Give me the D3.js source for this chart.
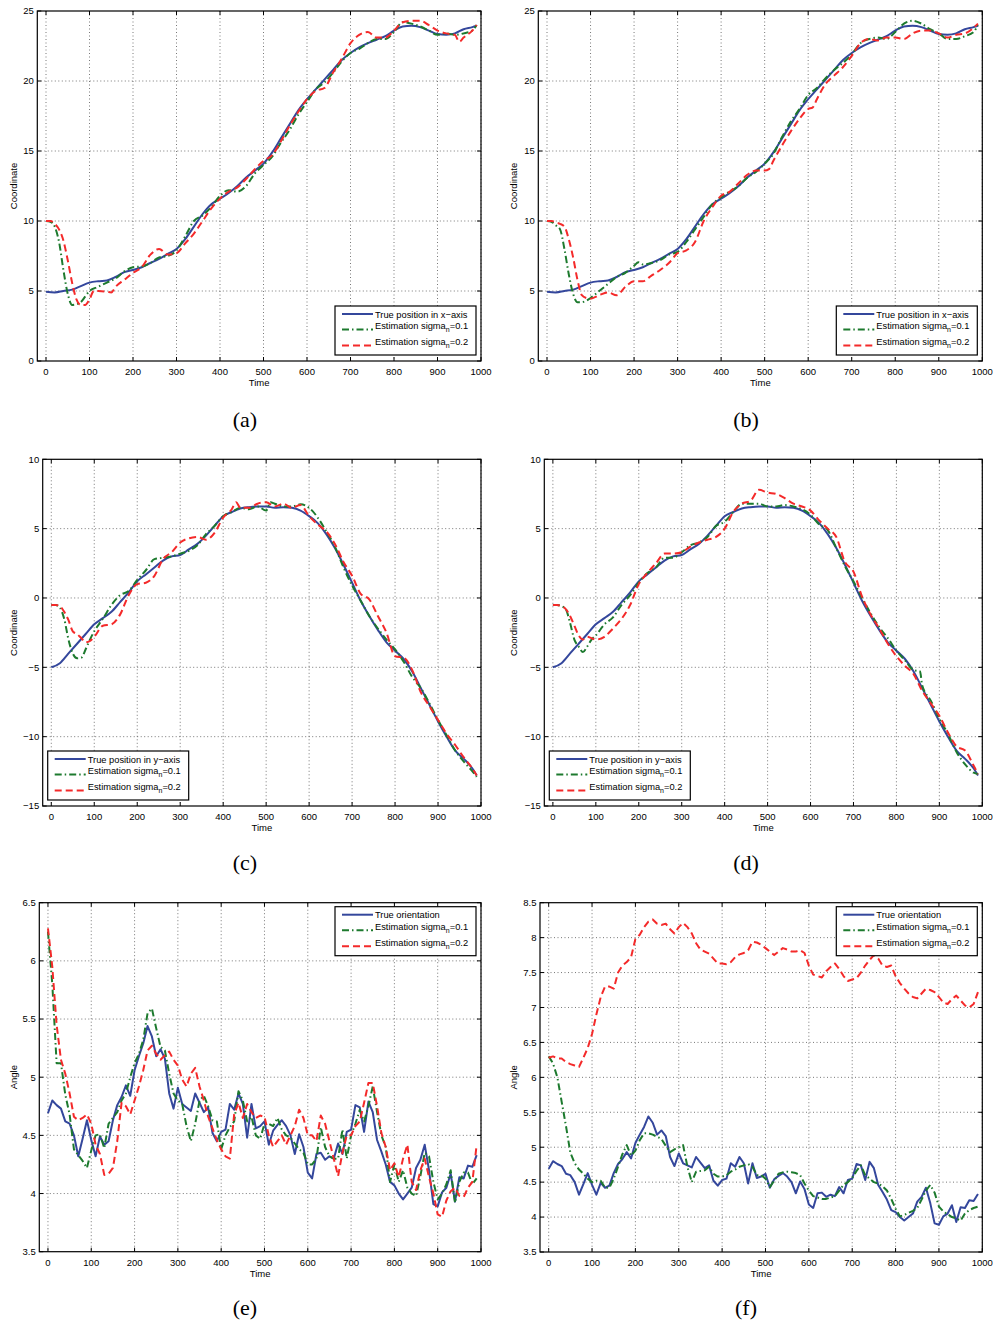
<!DOCTYPE html>
<html>
<head>
<meta charset="utf-8">
<script src="https://cdn.jsdelivr.net/npm/d3@7"></script>
<style>
body { margin: 0; background: #fff; }
svg { display: block; }
</style>
</head>
<body>
<div id="content"></div>
<script>
// tick values
var timeTicks = [0, 100, 200, 300, 400, 500, 600, 700, 800, 900, 1000];
var coordXTicks = [0, 5, 10, 15, 20, 25];
var coordYTicks = [-15, -10, -5, 0, 5, 10];
var angleTicksE = [3.5, 4, 4.5, 5, 5.5, 6, 6.5];
var angleTicksF = [3.5, 4, 4.5, 5, 5.5, 6, 6.5, 7, 7.5, 8, 8.5];

// x coordinate, [time, value]
var trueX = [[0,4.95],[20,4.9],[40,5.0],[60,5.1],[80,5.35],[100,5.6],[120,5.7],[140,5.75],[160,6.0],[180,6.35],[200,6.5],[220,6.7],[240,7.0],[260,7.3],[280,7.65],[300,8.0],[320,8.7],[340,9.6],[360,10.5],[380,11.2],[400,11.6],[420,12.0],[440,12.5],[460,13.1],[480,13.6],[500,14.1],[520,14.9],[540,15.9],[560,16.9],[580,17.9],[600,18.7],[620,19.4],[640,20.1],[660,20.8],[680,21.5],[700,22.0],[720,22.4],[740,22.7],[760,22.95],[780,23.2],[800,23.6],[820,23.9],[840,23.95],[860,23.85],[880,23.6],[900,23.35],[920,23.3],[940,23.4],[960,23.7],[980,23.85],[990,23.95]];
var estXa1 = [[0,10.0],[10,9.95],[20,9.6],[30,8.5],[40,6.5],[50,4.8],[60,4.0],[70,4.05],[80,4.2],[90,4.6],[100,5.0],[120,5.3],[140,5.6],[160,5.9],[180,6.4],[200,6.7],[220,6.75],[240,7.0],[260,7.4],[280,7.5],[300,7.9],[320,8.9],[340,10.0],[360,10.4],[380,11.0],[400,11.8],[420,12.2],[440,12.1],[460,12.5],[480,13.4],[500,14.0],[520,14.6],[540,15.6],[560,16.5],[580,17.6],[600,18.5],[620,19.4],[640,19.9],[660,20.6],[680,21.4],[700,22.0],[720,22.3],[740,22.7],[760,23.0],[780,23.0],[800,23.5],[820,24.2],[840,24.1],[860,23.9],[880,23.6],[900,23.3],[920,23.4],[940,23.3],[960,23.4],[980,23.6],[990,24.0]];
var estXa2 = [[0,10.0],[10,10.0],[20,9.8],[30,9.4],[40,8.6],[50,7.2],[60,5.6],[70,4.4],[80,4.0],[90,4.0],[100,4.4],[110,5.0],[120,5.0],[140,4.95],[150,4.9],[160,5.3],[180,5.8],[200,6.3],[220,6.7],[240,7.6],[260,8.0],[280,7.6],[300,7.7],[320,8.4],[340,9.1],[360,10.0],[380,10.9],[400,11.6],[420,12.1],[440,12.4],[460,13.0],[480,13.7],[500,14.3],[520,14.7],[540,15.7],[560,16.8],[580,17.8],[600,18.7],[620,19.3],[640,19.5],[660,20.6],[680,21.6],[700,22.7],[720,23.3],[740,23.5],[760,23.1],[780,23.1],[800,23.6],[820,24.2],[840,24.3],[860,24.3],[880,24.0],[900,23.6],[920,23.4],[940,23.3],[950,22.8],[960,23.1],[980,23.6],[990,24.0]];
var estXb1 = [[0,10.0],[10,9.95],[20,9.7],[30,9.4],[40,8.0],[50,6.2],[60,4.8],[70,4.2],[80,4.2],[90,4.3],[100,4.5],[120,5.0],[140,5.5],[160,6.0],[180,6.3],[200,6.8],[210,7.05],[220,6.9],[240,7.0],[260,7.2],[280,7.6],[300,7.8],[320,8.5],[340,9.4],[360,10.3],[380,11.2],[400,11.7],[420,12.1],[440,12.5],[460,13.1],[480,13.5],[500,14.1],[520,14.8],[540,16.0],[560,17.1],[580,18.0],[600,19.0],[620,19.5],[640,20.2],[660,20.8],[680,21.3],[700,21.9],[720,22.7],[740,23.0],[760,23.1],[780,23.0],[800,23.5],[820,24.1],[840,24.3],[860,24.1],[880,23.7],[900,23.4],[920,23.0],[940,23.0],[960,23.2],[980,23.5],[990,24.0]];
var estXb2 = [[0,10.0],[10,10.0],[20,9.9],[30,9.8],[40,9.6],[50,8.7],[60,7.4],[70,5.8],[80,4.7],[90,4.5],[100,4.45],[120,4.7],[140,4.9],[160,4.7],[180,5.3],[200,5.7],[220,5.7],[240,6.1],[260,6.5],[280,7.0],[300,7.7],[320,7.9],[340,8.5],[360,10.0],[380,11.0],[400,11.8],[420,12.1],[440,12.7],[460,13.3],[480,13.6],[500,13.6],[510,13.7],[520,14.3],[540,15.4],[560,16.4],[580,17.3],[600,18.0],[610,18.1],[620,18.7],[640,19.8],[660,20.4],[680,21.0],[700,21.8],[720,22.7],[740,23.0],[760,22.9],[780,23.1],[800,23.1],[820,23.0],[840,23.4],[860,23.6],[880,23.6],[900,23.4],[920,23.1],[940,23.3],[960,23.4],[980,23.8],[990,24.1]];

// y coordinate, [time, value]
var trueY = [[0,-5.0],[20,-4.7],[40,-4.0],[60,-3.3],[80,-2.6],[100,-1.9],[120,-1.45],[140,-1.0],[160,-0.3],[180,0.4],[200,1.2],[220,1.7],[240,2.2],[260,2.7],[280,3.0],[300,3.1],[320,3.5],[340,3.9],[360,4.5],[380,5.2],[400,5.9],[420,6.2],[440,6.45],[460,6.55],[480,6.6],[500,6.6],[520,6.5],[540,6.55],[560,6.5],[580,6.3],[600,5.9],[620,5.4],[640,4.6],[660,3.6],[680,2.4],[700,1.1],[720,-0.2],[740,-1.3],[760,-2.3],[780,-3.2],[800,-3.8],[820,-4.4],[840,-5.3],[860,-6.5],[880,-7.7],[900,-8.9],[920,-10.0],[940,-11.0],[960,-11.6],[980,-12.3],[990,-12.8]];
var estYc1 = [[0,-0.5],[10,-0.5],[20,-0.7],[30,-1.5],[40,-3.0],[50,-4.0],[60,-4.35],[70,-4.3],[80,-3.7],[90,-3.0],[100,-2.4],[120,-1.5],[140,-0.5],[160,0.2],[180,0.5],[200,1.3],[220,2.0],[240,2.8],[260,2.9],[280,3.0],[300,3.2],[320,3.4],[340,3.8],[360,4.6],[380,5.2],[400,5.9],[420,6.2],[440,6.5],[460,6.4],[480,6.6],[500,6.3],[510,6.9],[520,6.8],[540,6.6],[560,6.6],[580,6.75],[600,6.5],[620,5.8],[640,4.8],[660,3.7],[680,2.2],[700,0.9],[720,-0.2],[740,-1.3],[760,-2.2],[780,-3.0],[800,-3.7],[820,-4.6],[840,-5.7],[860,-6.5],[880,-7.6],[900,-8.8],[920,-9.9],[940,-11.0],[960,-11.8],[980,-12.5],[990,-12.9]];
var estYc2 = [[0,-0.5],[10,-0.5],[20,-0.6],[30,-1.0],[40,-1.6],[50,-2.4],[60,-2.6],[70,-2.9],[80,-3.2],[90,-3.1],[100,-2.8],[120,-2.0],[140,-1.9],[160,-1.2],[180,0.2],[200,1.0],[220,1.1],[240,1.6],[260,2.8],[280,3.3],[300,4.0],[320,4.3],[340,4.4],[360,4.2],[380,4.7],[400,5.8],[420,6.4],[430,6.9],[440,6.5],[460,6.5],[480,6.8],[500,6.9],[520,6.6],[540,6.8],[560,6.5],[580,6.7],[600,5.9],[620,5.3],[640,4.8],[660,3.9],[680,2.6],[700,1.6],[720,0.3],[740,-0.1],[760,-1.3],[780,-2.5],[800,-4.2],[820,-4.3],[840,-5.2],[860,-6.8],[880,-7.8],[900,-8.8],[920,-9.8],[940,-10.6],[960,-11.5],[980,-12.3],[990,-12.8]];
var estYd1 = [[0,-0.5],[10,-0.5],[20,-0.6],[30,-0.8],[40,-1.8],[50,-3.0],[60,-3.5],[70,-3.9],[80,-3.5],[90,-3.0],[100,-2.7],[120,-1.9],[140,-1.4],[160,-0.5],[180,0.2],[200,1.1],[220,1.8],[240,2.2],[260,2.9],[280,2.9],[300,3.3],[320,3.8],[340,4.0],[360,4.4],[380,5.2],[400,5.5],[420,6.2],[440,6.8],[460,6.8],[480,6.8],[500,6.6],[520,6.6],[540,6.7],[560,6.6],[580,6.4],[600,6.0],[620,5.3],[640,4.9],[660,3.6],[680,2.3],[700,1.2],[720,0.0],[740,-1.1],[760,-2.1],[780,-2.9],[800,-3.8],[820,-4.5],[840,-5.2],[855,-5.3],[860,-6.3],[880,-7.4],[900,-8.7],[920,-9.8],[940,-11.1],[960,-12.0],[980,-12.6],[990,-12.7]];
var estYd2 = [[0,-0.5],[10,-0.5],[20,-0.6],[30,-0.8],[40,-1.3],[50,-2.0],[60,-2.7],[70,-3.0],[80,-2.8],[90,-2.9],[100,-3.0],[120,-2.8],[140,-2.2],[160,-1.5],[180,-0.5],[200,1.0],[220,1.8],[240,2.5],[260,3.2],[280,3.2],[300,3.3],[320,3.7],[340,4.0],[360,4.2],[380,4.4],[400,5.0],[420,6.2],[440,6.8],[460,7.0],[480,7.8],[500,7.6],[520,7.5],[540,7.2],[560,6.8],[580,6.6],[600,6.3],[620,5.6],[640,5.0],[660,4.4],[680,2.6],[700,1.9],[720,0.1],[740,-1.2],[760,-2.2],[780,-3.3],[800,-4.2],[820,-4.9],[840,-5.5],[860,-6.7],[880,-7.6],[900,-8.5],[920,-9.7],[940,-10.7],[960,-11.0],[980,-12.1],[990,-12.7]];

// orientation, one value every 10 time steps
var orientTime = d3.range(0, 1000, 10);
var trueAngle = [4.69,4.8,4.76,4.73,4.62,4.6,4.5,4.32,4.47,4.63,
  4.46,4.32,4.49,4.42,4.45,4.63,4.76,4.83,4.93,4.84,
  5.06,5.18,5.29,5.44,5.35,5.18,5.24,5.16,4.86,4.73,
  4.91,4.77,4.74,4.71,4.86,4.78,4.7,4.74,4.52,4.45,
  4.53,4.55,4.77,4.72,4.86,4.77,4.48,4.77,4.56,4.58,
  4.62,4.42,4.54,4.59,4.63,4.58,4.5,4.34,4.51,4.4,
  4.18,4.13,4.34,4.35,4.29,4.32,4.3,4.43,4.34,4.53,
  4.55,4.76,4.74,4.53,4.79,4.7,4.46,4.36,4.25,4.1,
  4.07,4.0,3.95,4.0,4.05,4.22,4.29,4.42,4.2,3.91,
  3.89,4.01,4.05,4.17,3.93,4.14,4.13,4.24,4.23,4.33];
var angleE1 = [6.25,5.8,5.12,5.12,4.85,4.68,4.38,4.33,4.28,4.22,
  4.37,4.5,4.51,4.39,4.6,4.65,4.7,4.8,4.86,5.0,
  5.12,5.2,5.32,5.55,5.59,5.42,5.26,5.23,5.03,4.86,
  4.8,4.77,4.58,4.45,4.6,4.8,4.84,4.75,4.63,4.62,
  4.38,4.5,4.57,4.62,4.88,4.8,4.62,4.66,4.5,4.47,
  4.6,4.6,4.58,4.65,4.55,4.5,4.48,4.43,4.38,4.35,
  4.25,4.25,4.3,4.57,4.4,4.32,4.3,4.3,4.55,4.3,
  4.5,4.6,4.72,4.62,4.75,4.92,4.7,4.5,4.4,4.1,
  4.25,4.1,4.2,4.05,4.0,3.98,4.15,4.35,4.32,4.1,
  3.95,4.0,4.08,4.2,3.92,4.1,4.18,4.18,4.08,4.13];
var angleE2 = [6.28,5.95,5.45,5.15,5.03,4.86,4.66,4.63,4.65,4.68,
  4.6,4.42,4.34,4.16,4.17,4.22,4.45,4.78,4.75,4.68,
  4.8,4.92,5.06,5.23,5.27,5.2,5.15,5.19,5.22,5.15,
  5.1,4.98,4.92,5.03,5.08,4.92,4.8,4.66,4.56,4.46,
  4.38,4.32,4.3,4.68,4.78,4.65,4.77,4.7,4.65,4.67,
  4.66,4.5,4.4,4.45,4.5,4.42,4.5,4.58,4.72,4.65,
  4.5,4.5,4.45,4.67,4.6,4.45,4.3,4.15,4.35,4.5,
  4.5,4.58,4.62,4.78,4.95,4.95,4.75,4.52,4.4,4.2,
  4.26,4.14,4.3,4.42,4.1,4.03,4.2,4.3,4.14,4.0,
  3.82,3.8,3.94,4.02,4.05,3.98,3.97,4.05,4.1,4.42];
var angleF1 = [6.3,6.2,6.0,5.65,5.3,4.92,4.77,4.68,4.62,4.55,
  4.5,4.52,4.52,4.42,4.42,4.55,4.72,4.9,5.03,4.88,
  4.95,5.1,5.2,5.2,5.18,5.15,5.12,5.02,4.93,4.97,
  5.0,5.03,4.72,4.5,4.65,4.66,4.67,4.72,4.62,4.58,
  4.58,4.6,4.65,4.68,4.72,4.74,4.76,4.72,4.6,4.6,
  4.55,4.43,4.52,4.62,4.64,4.65,4.64,4.63,4.6,4.48,
  4.38,4.3,4.28,4.26,4.26,4.28,4.3,4.38,4.46,4.5,
  4.56,4.66,4.74,4.6,4.55,4.5,4.48,4.44,4.38,4.26,
  4.12,4.01,4.03,4.06,4.09,4.13,4.25,4.38,4.46,4.35,
  4.15,4.08,4.04,4.0,3.98,3.95,4.05,4.1,4.13,4.15];
var angleF2 = [6.28,6.3,6.27,6.27,6.22,6.19,6.17,6.15,6.28,6.42,
  6.62,6.9,7.15,7.3,7.3,7.27,7.5,7.6,7.65,7.72,
  7.98,8.04,8.15,8.23,8.26,8.2,8.18,8.2,8.12,8.06,
  8.15,8.21,8.15,8.06,7.92,7.83,7.8,7.77,7.7,7.63,
  7.63,7.62,7.65,7.72,7.76,7.78,7.82,7.94,7.93,7.9,
  7.85,7.8,7.75,7.8,7.85,7.83,7.8,7.8,7.82,7.78,
  7.6,7.47,7.45,7.43,7.52,7.58,7.63,7.55,7.45,7.38,
  7.4,7.42,7.5,7.6,7.68,7.75,7.7,7.6,7.58,7.6,
  7.45,7.35,7.27,7.2,7.15,7.13,7.2,7.27,7.25,7.22,
  7.15,7.07,7.05,7.12,7.17,7.1,7.03,7.0,7.05,7.22];

var seriesNames = ["Estimation sigma", "Estimation sigma"];
var sigmaValues = ["=0.1", "=0.2"];

function pairs(values) {
    return values.map(function (v, i) { return [orientTime[i], v]; });
}

var blue = "#34479c", green = "#1d7a2e", red = "#f42a2a";
var sans = "'Liberation Sans', Arial, Helvetica, sans-serif";

var panels = [
  { box: [37.3, 11, 481, 361], col: 0, yDomain: [0, 25], yTicks: coordXTicks, yLabel: "Coordinate",
    series: [trueX, estXa1, estXa2], smooth: true, legend: "br", trueName: "True position in x\u2212axis", tag: "(a)", tagPos: [245, 427] },
  { box: [538.3, 11, 982.3, 361], col: 1, yDomain: [0, 25], yTicks: coordXTicks, yLabel: "Coordinate",
    series: [trueX, estXb1, estXb2], smooth: true, legend: "br", trueName: "True position in x\u2212axis", tag: "(b)", tagPos: [746, 427] },
  { box: [42.7, 459.3, 481, 806], col: 0, yDomain: [-15, 10], yTicks: coordYTicks, yLabel: "Coordinate",
    series: [trueY, estYc1, estYc2], smooth: true, legend: "bl", trueName: "True position in y\u2212axis", tag: "(c)", tagPos: [245, 870] },
  { box: [544.3, 459.3, 982.3, 806], col: 1, yDomain: [-15, 10], yTicks: coordYTicks, yLabel: "Coordinate",
    series: [trueY, estYd1, estYd2], smooth: true, legend: "bl", trueName: "True position in y\u2212axis", tag: "(d)", tagPos: [746, 870] },
  { box: [39.3, 902.7, 481, 1251.7], col: 0, yDomain: [3.5, 6.5], yTicks: angleTicksE, yLabel: "Angle",
    series: [pairs(trueAngle), pairs(angleE1), pairs(angleE2)], smooth: false, legend: "tr", trueName: "True orientation", tag: "(e)", tagPos: [245, 1315] },
  { box: [540, 902.7, 982.3, 1252], col: 1, yDomain: [3.5, 8.5], yTicks: angleTicksF, yLabel: "Angle",
    series: [pairs(trueAngle), pairs(angleF1), pairs(angleF2)], smooth: false, legend: "tr", trueName: "True orientation", tag: "(f)", tagPos: [746, 1315] }
];

var styles = [
  { color: blue, width: 2, dash: null },
  { color: green, width: 2, dash: "7,3,1.5,3" },
  { color: red, width: 2, dash: "7,4" }
];

function tickFmt(d) {
    return (d < 0 ? "\u2212" : "") + Math.abs(d);
}

var svg = d3.select("#content").append("svg")
    .attr("width", 993)
    .attr("height", 1325);

panels.forEach(function (p, pi) {
    var x0 = p.box[0], y0 = p.box[1], x1 = p.box[2], y1 = p.box[3];
    var x = d3.scaleLinear().domain([-20, 1000]).range([x0, x1]);
    var y = d3.scaleLinear().domain(p.yDomain).range([y1, y0]);
    var g = svg.append("g");

    // grid
    g.selectAll(".gx").data(timeTicks).enter().append("line")
        .attr("x1", function (d) { return x(d); }).attr("x2", function (d) { return x(d); })
        .attr("y1", y0).attr("y2", y1)
        .attr("stroke", "#555").attr("stroke-width", 0.8).attr("stroke-dasharray", "1,2.5");
    g.selectAll(".gy").data(p.yTicks.slice(1, -1)).enter().append("line")
        .attr("y1", function (d) { return y(d); }).attr("y2", function (d) { return y(d); })
        .attr("x1", x0).attr("x2", x1)
        .attr("stroke", "#555").attr("stroke-width", 0.8).attr("stroke-dasharray", "1,2.5");

    // lines
    var clipId = "clip" + pi;
    svg.append("clipPath").attr("id", clipId).append("rect")
        .attr("x", x0).attr("y", y0).attr("width", x1 - x0).attr("height", y1 - y0);
    var line = d3.line()
        .x(function (d) { return x(d[0]); })
        .y(function (d) { return y(d[1]); })
        .curve(p.smooth ? d3.curveMonotoneX : d3.curveLinear);
    p.series.forEach(function (s, si) {
        g.append("path")
            .attr("clip-path", "url(#" + clipId + ")")
            .attr("d", line(s))
            .attr("fill", "none")
            .attr("stroke", styles[si].color)
            .attr("stroke-width", styles[si].width)
            .attr("stroke-dasharray", styles[si].dash)
            .attr("stroke-linejoin", "round");
    });

    // inward ticks on all four sides
    var tl = 4;
    timeTicks.forEach(function (t) {
        g.append("line").attr("x1", x(t)).attr("x2", x(t)).attr("y1", y1).attr("y2", y1 - tl).attr("stroke", "#000");
        g.append("line").attr("x1", x(t)).attr("x2", x(t)).attr("y1", y0).attr("y2", y0 + tl).attr("stroke", "#000");
    });
    p.yTicks.forEach(function (t) {
        g.append("line").attr("y1", y(t)).attr("y2", y(t)).attr("x1", x0).attr("x2", x0 + tl).attr("stroke", "#000");
        g.append("line").attr("y1", y(t)).attr("y2", y(t)).attr("x1", x1).attr("x2", x1 - tl).attr("stroke", "#000");
    });

    // box
    g.append("rect").attr("x", x0).attr("y", y0).attr("width", x1 - x0).attr("height", y1 - y0)
        .attr("fill", "none").attr("stroke", "#000").attr("stroke-width", 1.2);

    // tick labels
    g.selectAll(".xl").data(timeTicks).enter().append("text")
        .attr("x", function (d) { return x(d); }).attr("y", y1 + 14)
        .attr("text-anchor", "middle").attr("font-family", sans).attr("font-size", 9.5)
        .text(tickFmt);
    g.selectAll(".yl").data(p.yTicks).enter().append("text")
        .attr("x", x0 - 3.5).attr("y", function (d) { return y(d) + 3.3; })
        .attr("text-anchor", "end").attr("font-family", sans).attr("font-size", 9.5)
        .text(tickFmt);

    // axis titles
    g.append("text").attr("x", (x0 + x1) / 2).attr("y", y1 + 25)
        .attr("text-anchor", "middle").attr("font-family", sans).attr("font-size", 9.5).text("Time");
    var labelX = p.col === 0 ? 16.5 : 517;
    g.append("text")
        .attr("transform", "translate(" + labelX + "," + ((y0 + y1) / 2) + ") rotate(-90)")
        .attr("text-anchor", "middle").attr("font-family", sans).attr("font-size", 9.5).text(p.yLabel);

    // legend
    var lw = 141, lh = 49;
    var lx = p.legend === "bl" ? x0 + 5 : x1 - 5 - lw;
    var ly = p.legend === "tr" ? y0 + 4 : y1 - 6 - lh;
    var lg = g.append("g").attr("transform", "translate(" + lx + "," + ly + ")");
    lg.append("rect").attr("width", lw).attr("height", lh)
        .attr("fill", "#fff").attr("stroke", "#000").attr("stroke-width", 1.2);
    var rows = [8, 23.5, 39.5];
    styles.forEach(function (st, i) {
        lg.append("line").attr("x1", 7).attr("x2", 38).attr("y1", rows[i]).attr("y2", rows[i])
            .attr("stroke", st.color).attr("stroke-width", st.width).attr("stroke-dasharray", st.dash);
        var t = lg.append("text").attr("x", 40).attr("font-family", sans).attr("font-size", 9.3)
            .attr("y", i === 0 ? rows[i] + 3.5 : rows[i] - 0.5);
        if (i === 0) {
            t.text(p.trueName);
        } else {
            t.append("tspan").text(seriesNames[i - 1]);
            t.append("tspan").attr("font-size", 7).attr("dy", 3).text("n");
            t.append("tspan").attr("dy", -3).text(sigmaValues[i - 1]);
        }
    });

    // panel tag
    svg.append("text").attr("x", p.tagPos[0]).attr("y", p.tagPos[1])
        .attr("text-anchor", "middle").attr("font-family", "'Liberation Serif', 'DejaVu Serif', serif")
        .attr("font-size", 22).text(p.tag);
});
</script>
</body>
</html>
